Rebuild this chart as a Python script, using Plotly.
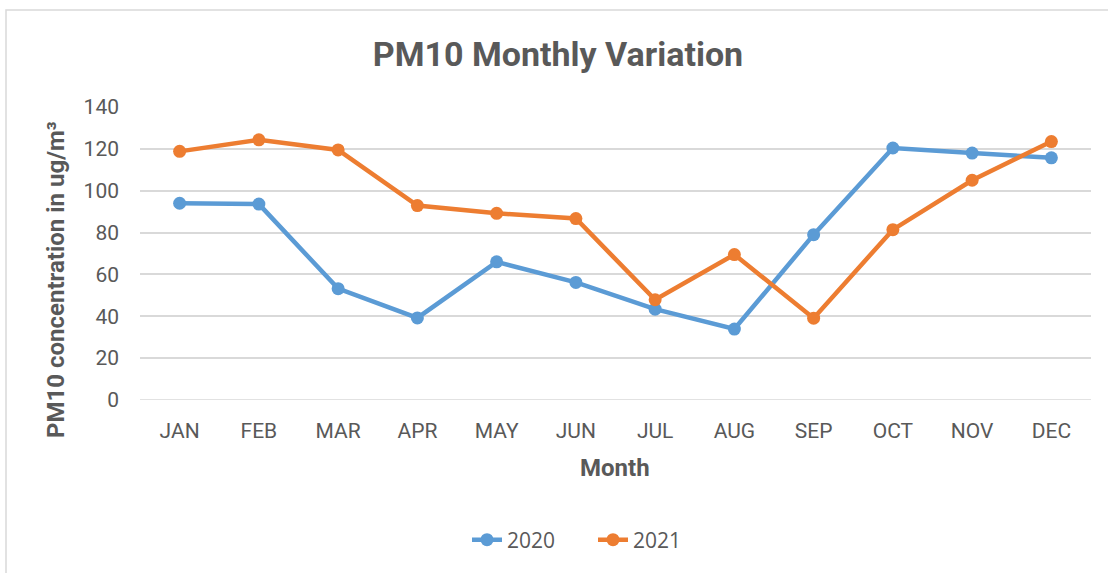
import plotly.graph_objects as go

months = ["JAN", "FEB", "MAR", "APR", "MAY", "JUN", "JUL", "AUG", "SEP", "OCT", "NOV", "DEC"]
pm10_2020 = [94.0, 93.6, 53.2, 39.2, 66.0, 56.2, 43.4, 33.9, 79.0, 120.4, 118.0, 115.7]
pm10_2021 = [118.8, 124.3, 119.5, 92.9, 89.2, 86.7, 47.9, 69.5, 39.1, 81.4, 105.0, 123.5]
y_ticks = [0, 20, 40, 60, 80, 100, 120, 140]

BLUE = "#5B9BD5"
ORANGE = "#ED7D31"
TEXT = "#595959"
GRID = "#D9D9D9"
FONT = "Roboto, Arial, sans-serif"

fig = go.Figure()
for name, vals, col in [("2020", pm10_2020, BLUE), ("2021", pm10_2021, ORANGE)]:
    fig.add_trace(go.Scatter(
        x=months, y=vals, name=name, mode="lines+markers",
        line=dict(color=col, width=4.5),
        marker=dict(color=col, size=13),
    ))

L, R, T, B = 140, 17, 107, 173
W, H = 1108, 573
pw, ph = W - L - R, H - T - B

def px_x(p):
    return (p - L) / pw

def px_y(p):
    return (H - B - p) / ph

fig.update_layout(
    width=W, height=H,
    margin=dict(l=L, r=R, t=T, b=B),
    paper_bgcolor="white", plot_bgcolor="white",
    font=dict(family=FONT, color=TEXT),
    title=dict(text="<b>PM10 Monthly Variation</b>", x=558 / W, xanchor="center",
               y=1 - 54 / H, yanchor="middle",
               font=dict(size=34, color=TEXT, family=FONT)),
    showlegend=True,
    legend=dict(orientation="h", x=px_x(467), xanchor="left", y=px_y(540), yanchor="middle",
                font=dict(size=21, color=TEXT, family="Open Sans, sans-serif"),
                entrywidth=81, entrywidthmode="pixels", tracegroupgap=0),
    xaxis=dict(type="category", range=[-0.5, len(months) - 0.5], autorange=False,
               showgrid=False, showline=False, zeroline=False,
               ticks="", tickfont=dict(size=21, color=TEXT), ticklabelstandoff=16),
    yaxis=dict(range=[0, 140], tickvals=y_ticks, showgrid=True, gridcolor=GRID, gridwidth=1.5,
               zeroline=False, showline=False, ticks="",
               tickfont=dict(size=21, color=TEXT), ticklabelstandoff=20),
    shapes=[dict(type="rect", xref="paper", yref="paper",
                 x0=px_x(6), x1=px_x(1130), y0=px_y(10), y1=px_y(600),
                 line=dict(color="#D9D9D9", width=1.5), fillcolor="rgba(0,0,0,0)", layer="below"),
            dict(type="line", xref="paper", yref="y", x0=0, x1=1, y0=0, y1=0,
                 line=dict(color=GRID, width=1.5), layer="below")],
    annotations=[
        dict(text="<b>PM10 concentration in ug/m³</b>", textangle=-90,
             xref="paper", yref="paper", x=px_x(56), y=px_y(280),
             xanchor="center", yanchor="middle", showarrow=False,
             font=dict(size=24, color=TEXT, family=FONT)),
        dict(text="<b>Month</b>", xref="paper", yref="paper", x=px_x(615), y=px_y(468),
             xanchor="center", yanchor="middle", showarrow=False,
             font=dict(size=24, color=TEXT, family=FONT)),
    ],
)

fig.write_html("out.html")
